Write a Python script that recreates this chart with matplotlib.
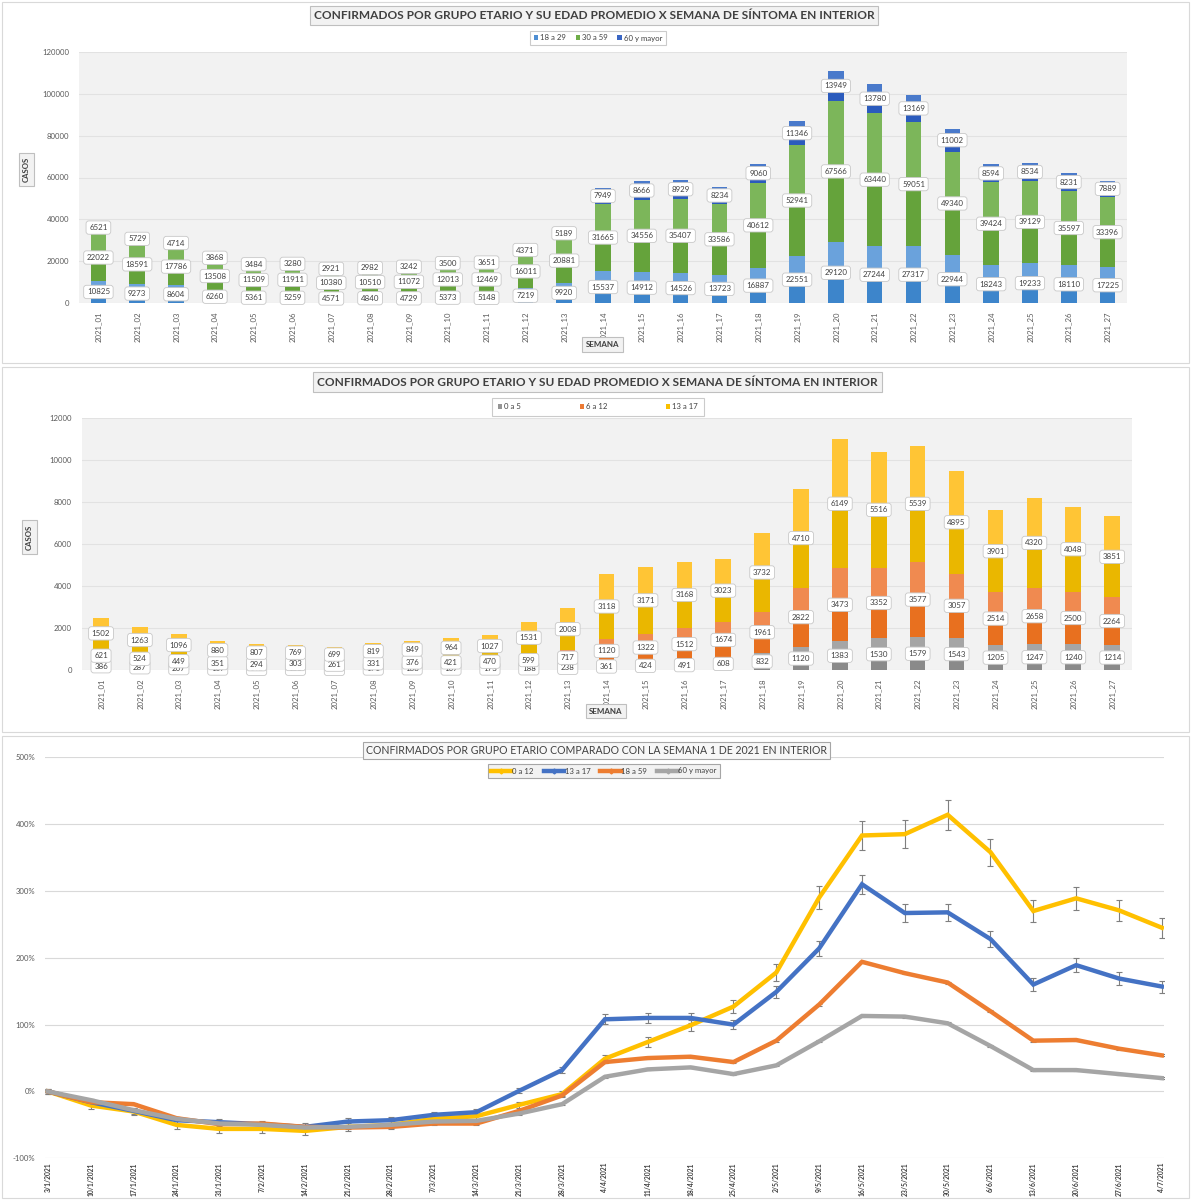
import matplotlib
matplotlib.use("Agg")
from matplotlib import pyplot as plt
from matplotlib.patches import Rectangle, Patch
from matplotlib.lines import Line2D
import numpy as np

# ---------------- datos ----------------
semanas = ["2021_01", "2021_02", "2021_03", "2021_04", "2021_05", "2021_06", "2021_07",
           "2021_08", "2021_09", "2021_10", "2021_11", "2021_12", "2021_13", "2021_14",
           "2021_15", "2021_16", "2021_17", "2021_18", "2021_19", "2021_20", "2021_21",
           "2021_22", "2021_23", "2021_24", "2021_25", "2021_26", "2021_27"]

adultos_18_29 = [10825, 9273, 8604, 6260, 5361, 5259, 4571, 4840, 4729, 5373, 5148, 7219, 9920,
                 15537, 14912, 14526, 13723, 16887, 22551, 29120, 27244, 27317, 22944, 18243,
                 19233, 18110, 17225]
adultos_30_59 = [22022, 18591, 17786, 13508, 11509, 11911, 10380, 10510, 11072, 12013, 12469,
                 16011, 20881, 31665, 34556, 35407, 33586, 40612, 52941, 67566, 63440, 59051,
                 49340, 39424, 39129, 35597, 33396]
mayores_60 = [6521, 5729, 4714, 3868, 3484, 3280, 2921, 2982, 3242, 3500, 3651, 4371, 5189,
              7949, 8666, 8929, 8234, 9060, 11346, 13949, 13780, 13169, 11002, 8594, 8534,
              8231, 7889]

ninos_0_5 = [386, 287, 207, 167, 143, 150, 138, 171, 188, 167, 173, 188, 238, 361, 424, 491,
             608, 832, 1120, 1383, 1530, 1579, 1543, 1205, 1247, 1240, 1214]
ninos_6_12 = [621, 524, 449, 351, 294, 303, 261, 331, 376, 421, 470, 599, 717, 1120, 1322, 1512,
              1674, 1961, 2822, 3473, 3352, 3577, 3057, 2514, 2658, 2500, 2264]
adol_13_17 = [1502, 1263, 1096, 880, 807, 769, 699, 819, 849, 964, 1027, 1531, 2008, 3118, 3171,
              3168, 3023, 3732, 4710, 6149, 5516, 5539, 4895, 3901, 4320, 4048, 3851]

fechas = ["3/1/2021", "10/1/2021", "17/1/2021", "24/1/2021", "31/1/2021", "7/2/2021",
          "14/2/2021", "21/2/2021", "28/2/2021", "7/3/2021", "14/3/2021", "21/3/2021",
          "28/3/2021", "4/4/2021", "11/4/2021", "18/4/2021", "25/4/2021", "2/5/2021",
          "9/5/2021", "16/5/2021", "23/5/2021", "30/5/2021", "6/6/2021", "13/6/2021",
          "20/6/2021", "27/6/2021", "4/7/2021"]

# variacion % respecto a la semana 1
var_0_12 = [0, -21, -30, -50, -56, -56, -59, -53, -50, -41, -37, -20, -4, 49, 74, 99, 127, 178,
            290, 383, 385, 414, 358, 270, 289, 271, 245]
var_13_17 = [0, -16, -29, -43, -46, -49, -53, -45, -43, -35, -31, 1, 32, 108, 110, 110, 100, 149,
             214, 310, 267, 268, 228, 160, 189, 169, 157]
var_18_59 = [0, -16, -19, -40, -49, -48, -53, -54, -53, -48, -48, -29, -6, 44, 50, 52, 44, 76,
             130, 194, 177, 163, 120, 76, 77, 64, 54]
var_60 = [0, -13, -28, -41, -48, -50, -54, -53, -50, -45, -44, -33, -19, 22, 33, 36, 26, 39, 75,
          113, 112, 102, 68, 32, 32, 26, 20]

# ---------------- figura ----------------
W, H = 1192, 1200
fig = plt.figure(figsize=(W / 100, H / 100), dpi=100)
fig.patch.set_facecolor("white")
plt.rcParams["font.family"] = ["Lato", "DejaVu Sans"]

TXT = "#404040"
TICK = "#595959"


def px_axes(l, t, r, b):
    return fig.add_axes([l / W, 1 - b / H, (r - l) / W, (b - t) / H])


def fx(x):
    return x / W


def fy(y):
    return 1 - y / H


def panel(t, b):
    fig.patches.append(Rectangle((fx(2), fy(b)), fx(1187), (b - t) / H, transform=fig.transFigure,
                                 fc="white", ec="#d9d9d9", lw=0.8, zorder=-10))


def caja(x, y, s, size, bold=False, rot=0, fc="#f2f2f2", ec="#bfbfbf", pad=0.3, family=None):
    kw = {}
    if family:
        kw["family"] = family
    fig.text(fx(x), fy(y), s, ha="center", va="center", fontsize=size, rotation=rot,
             fontweight="bold" if bold else "normal", color=TXT,
             bbox=dict(boxstyle="square,pad=%s" % pad, fc=fc, ec=ec, lw=0.8), **kw)


def barras(ax, series, claros, oscuros, ymax, paso):
    x = np.arange(len(semanas))
    base = np.zeros(len(semanas))
    for vals, cl, co in zip(series, claros, oscuros):
        v = np.array(vals, dtype=float)
        ax.bar(x, v / 2, 0.4, bottom=base, color=co, zorder=2)
        ax.bar(x, v / 2, 0.4, bottom=base + v / 2, color=cl, zorder=2)
        for xi, b, vi in zip(x, base, vals):
            ax.text(xi, b + vi / 2, str(vi), ha="center", va="center", fontsize=5.7, color=TXT,
                    zorder=5, bbox=dict(boxstyle="round,pad=0.4,rounding_size=0.35",
                                        fc="white", ec="#c8c8c8", lw=0.6))
        base += v
    ax.set_facecolor("#f2f2f2")
    ax.set_xlim(-0.5, len(semanas) - 0.5)
    ax.set_ylim(0, ymax)
    ax.set_yticks(np.arange(0, ymax + 1, paso))
    ax.yaxis.grid(True, color="#e2e2e2", lw=0.8, zorder=0)
    ax.set_axisbelow(True)
    ax.set_xticks(x)
    ax.set_xticklabels(semanas, rotation=90, fontsize=5.6, color=TICK)
    ax.tick_params(axis="y", labelsize=5.6, labelcolor=TICK, length=0, pad=7)
    ax.tick_params(axis="x", length=0, pad=6)
    for s in ax.spines.values():
        s.set_visible(False)


# ---------------- panel 1 ----------------
panel(2, 363)
ax1 = px_axes(79, 51.7, 1127, 303.3)
barras(ax1, [adultos_18_29, adultos_30_59, mayores_60],
       ["#6aa2dc", "#7cb65a", "#4a7acb"], ["#3d85cb", "#65a33b", "#2b5bbd"], 120000, 20000)
caja(594, 15.4, "CONFIRMADOS POR GRUPO ETARIO Y SU EDAD PROMEDIO X SEMANA DE SÍNTOMA EN INTERIOR",
     8.6, bold=True, pad=0.35)
caja(26.5, 169.5, "CASOS", 5.6, bold=True, rot=90, pad=0.5)
caja(602.6, 344.5, "SEMANA", 5.8, bold=True, pad=0.45)
h1 = [Patch(fc=c) for c in ["#4f8fd3", "#6fad48", "#3a66c4"]]
fig.legend(h1, ["18 a 29", "30 a 59", "60 y mayor"], loc="center", bbox_to_anchor=(fx(598), fy(38)),
           ncol=3, fontsize=5.6, frameon=True, fancybox=False, edgecolor="#bfbfbf",
           handlelength=0.55, handleheight=0.55, handletextpad=0.3, columnspacing=1.2,
           borderpad=0.45, labelcolor=TXT).get_frame().set_linewidth(0.8)

# ---------------- panel 2 ----------------
panel(367, 732)
ax2 = px_axes(81.6, 418.3, 1131.6, 670.3)
barras(ax2, [ninos_0_5, ninos_6_12, adol_13_17],
       ["#a5a5a5", "#f08a50", "#ffc535"], ["#8a8a8a", "#e8701f", "#eab700"], 12000, 2000)
caja(597.5, 382, "CONFIRMADOS POR GRUPO ETARIO Y SU EDAD PROMEDIO X SEMANA DE SÍNTOMA EN INTERIOR",
     8.6, bold=True, pad=0.35)
caja(29.7, 537, "CASOS", 5.6, bold=True, rot=90, pad=0.5)
caja(606, 711, "SEMANA", 5.8, bold=True, pad=0.45)
h2 = [Patch(fc=c) for c in ["#959595", "#ec7a35", "#f9c000"]]
fig.legend(h2, ["0 a 5", "6 a 12", "13 a 17"], loc="center", bbox_to_anchor=(fx(598), fy(407)),
           ncol=3, fontsize=5.6, frameon=True, fancybox=False, edgecolor="#bfbfbf",
           handlelength=0.55, handleheight=0.55, handletextpad=0.3, columnspacing=7.5,
           borderpad=0.7, labelcolor=TXT).get_frame().set_linewidth(0.8)

# ---------------- panel 3 ----------------
panel(736, 1198)
ax3 = px_axes(45, 757.3, 1164, 1158.3)
x = np.arange(len(fechas))
lineas = [(var_0_12, "#ffc000", "0 a 12"), (var_13_17, "#4472c4", "13 a 17"),
          (var_18_59, "#ed7d31", "18 a 59"), (var_60, "#a5a5a5", "60 y mayor")]
errores = [(4, 0.045), (3.5, 0.035), (1.5, 0.0), (1.5, 0.0)]
for (vals, col, lab), (e0, e1) in zip(lineas, errores):
    v = np.array(vals, dtype=float)
    err = e0 + e1 * np.abs(v)
    ax3.errorbar(x, v, yerr=err, color=col, lw=3.2, ecolor="#7f7f7f", elinewidth=0.8,
                 capsize=2, capthick=0.8, solid_joinstyle="miter", zorder=3, label=lab)
ax3.set_xlim(-0.07, 26.05)
ax3.set_ylim(-100, 500)
ax3.set_yticks(np.arange(-100, 501, 100))
ax3.set_yticklabels(["%d%%" % t for t in range(-100, 501, 100)])
ax3.yaxis.grid(True, color="#d9d9d9", lw=0.8, zorder=0)
ax3.set_axisbelow(True)
ax3.set_xticks(x)
ax3.set_xticklabels(fechas, rotation=90, fontsize=4.9, fontweight="bold", color=TXT)
ax3.tick_params(axis="y", labelsize=5.6, labelcolor=TICK, length=0, pad=7)
ax3.tick_params(axis="x", length=0, pad=3)
for s in ax3.spines.values():
    s.set_visible(False)
caja(596.5, 750.5, "CONFIRMADOS POR GRUPO ETARIO COMPARADO CON LA SEMANA 1 DE 2021 EN INTERIOR",
     7.6, fc="#f7f7f7", ec="#a6a6a6", pad=0.3, family=["Liberation Sans Narrow", "Lato"])
h3 = [Line2D([], [], color=c, lw=3.2, marker="D", markersize=2.5) for _, c, _ in lineas]
fig.legend(h3, [l for _, _, l in lineas], loc="center", bbox_to_anchor=(fx(604), fy(771)),
           ncol=4, fontsize=5.6, frameon=True, fancybox=False, edgecolor="#a6a6a6",
           facecolor="#f2f2f2", framealpha=1, handlelength=2.6, handletextpad=0.1,
           columnspacing=1.3, borderpad=0.45, labelcolor=TXT).get_frame().set_linewidth(0.8)

fig.savefig("out.png", dpi=100)
